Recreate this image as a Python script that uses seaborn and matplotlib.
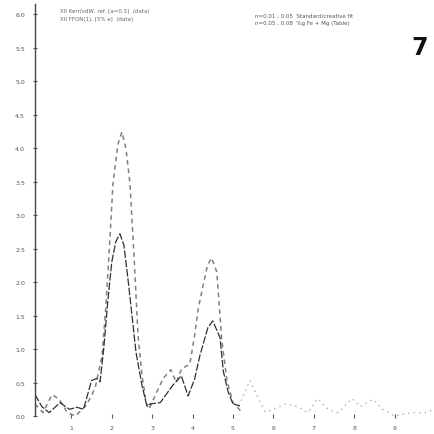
import matplotlib
matplotlib.use("Agg")
import matplotlib.pyplot as plt
import seaborn as sns
import pandas as pd

# ---- data ----
dashed_x = [0.1, 0.3, 0.52, 0.7, 0.9, 1.1, 1.34, 1.5, 1.6, 1.76, 1.85, 1.95, 2.03, 2.15, 2.25,
            2.35, 2.45, 2.55, 2.65, 2.75, 2.85, 2.92, 3.07, 3.27, 3.46, 3.6, 3.73, 3.93, 4.05,
            4.14, 4.26, 4.37, 4.47, 4.6, 4.72, 4.85, 5.0, 5.2]
dashed_y = [0.18, 0.05, 0.32, 0.25, 0.05, 0.0, 0.14, 0.3, 0.45, 0.9, 1.6, 2.6, 3.47, 4.05, 4.24,
            4.0, 3.47, 2.4, 1.2, 0.6, 0.2, 0.1, 0.3, 0.56, 0.69, 0.5, 0.71, 0.77, 1.2,
            1.6, 1.95, 2.25, 2.36, 2.15, 1.15, 0.53, 0.2, 0.07]

solid_x = [0.1, 0.27, 0.45, 0.72, 0.95, 1.14, 1.3, 1.5, 1.63, 1.71, 1.8, 1.9, 2.0, 2.1, 2.2,
           2.3, 2.4, 2.5, 2.6, 2.75, 2.87, 2.95, 3.2, 3.5, 3.72, 3.89, 4.05, 4.18, 4.38, 4.5,
           4.68, 4.76, 4.88, 5.0, 5.17]
solid_y = [0.32, 0.14, 0.05, 0.2, 0.1, 0.13, 0.1, 0.53, 0.56, 0.51, 1.0, 1.7, 2.3, 2.6, 2.72,
           2.55, 2.05, 1.5, 0.95, 0.45, 0.15, 0.18, 0.2, 0.45, 0.6, 0.3, 0.55, 0.9, 1.32, 1.42,
           1.17, 0.67, 0.36, 0.18, 0.15]

tail_x = [5.15, 5.25, 5.42, 5.6, 5.8, 6.0, 6.3, 6.6, 6.85, 7.1, 7.35, 7.6, 7.95, 8.15, 8.47,
          8.7, 9.0, 9.4, 9.75, 9.98]
tail_y = [0.15, 0.3, 0.53, 0.3, 0.06, 0.1, 0.18, 0.14, 0.05, 0.26, 0.1, 0.05, 0.26, 0.14, 0.25,
          0.1, 0.0, 0.05, 0.05, 0.1]

x_ticks = [1, 2, 3, 4, 5, 6, 7, 8, 9]
y_ticks = [0.0, 0.5, 1.0, 1.5, 2.0, 2.5, 3.0, 3.5, 4.0, 4.5, 5.0, 5.5, 6.0]

legend_left = ["XII Kerr/vdW, ref. [a=0.5]  (data)", "XII FFON(1), [5% e]  (data)"]
legend_right = ["n=0.01 , 0.05  Standard/creative fit", "n=0.05 , 0.08  %g Fe + Mg (Table)"]
panel_label = "7"

# ---- figure ----
sns.set_style("ticks")
plt.rcParams["font.family"] = ["DejaVu Sans"]
fig = plt.figure(figsize=(4.35, 4.35), dpi=100)
ax = fig.add_axes([35 / 435, 18 / 435, 400 / 435, 412 / 435])

df_d = pd.DataFrame({"x": dashed_x, "y": dashed_y})
df_s = pd.DataFrame({"x": solid_x, "y": solid_y})
df_t = pd.DataFrame({"x": tail_x, "y": tail_y})

sns.lineplot(data=df_t, x="x", y="y", ax=ax, color="#b0b0b0", lw=1.0,
             linestyle=(0, (1, 3)), sort=False, estimator=None)
sns.lineplot(data=df_d, x="x", y="y", ax=ax, color="#808080", lw=1.1,
             linestyle=(0, (3, 2.5)), sort=False, estimator=None)
sns.lineplot(data=df_s, x="x", y="y", ax=ax, color="#303030", lw=0.9,
             linestyle=(0, (6, 1.5)), sort=False, estimator=None)

ax.set_xlim(0.1, 10.0)
ax.set_ylim(0, 6.15)
ax.set_xticks(x_ticks)
ax.set_yticks(y_ticks)
ax.set_xticklabels([str(v) for v in x_ticks])
ax.set_yticklabels([f"{v:.1f}" for v in y_ticks])
ax.set_xlabel("")
ax.set_ylabel("")
ax.tick_params(axis="both", labelsize=4.5, colors="#555555", length=2.5, width=0.8,
               direction="inout")
ax.tick_params(axis="y", pad=6)
ax.tick_params(axis="x", pad=5)
for side in ["top", "right", "bottom"]:
    ax.spines[side].set_visible(False)
ax.spines["left"].set_color("#444444")
ax.spines["left"].set_linewidth(1.0)

for i, t in enumerate(legend_left):
    fig.text(60 / 435, 1 - (11 + 8 * i) / 435, t, fontsize=4, color="#666666", va="center")
for i, t in enumerate(legend_right):
    fig.text(255 / 435, 1 - (16 + 7 * i) / 435, t, fontsize=4, color="#555555", va="center")
fig.text(420 / 435, 1 - 48 / 435, panel_label, fontsize=17, fontweight="bold",
         color="#111111", ha="center", va="center")

fig.savefig("out.png", dpi=100)
